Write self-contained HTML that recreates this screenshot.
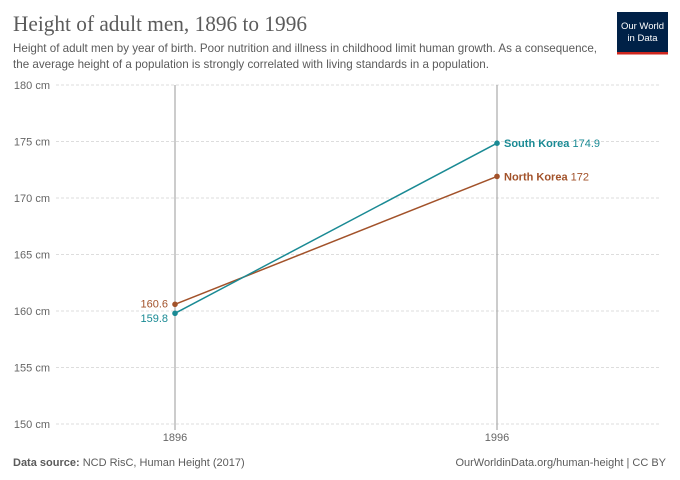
<!DOCTYPE html>
<html><head><meta charset="utf-8"><style>
body{margin:0;background:#fff;width:680px;height:480px;overflow:hidden}
svg{display:block;font-family:"Liberation Sans",sans-serif}
</style></head><body>
<svg width="680" height="480" viewBox="0 0 680 480">
<text x="13" y="31" font-family="Liberation Serif,serif" font-size="22" fill="#5b5b5b" textLength="294" lengthAdjust="spacingAndGlyphs">Height of adult men, 1896 to 1996</text>
<rect x="617" y="12" width="51" height="40" fill="#002147"/>
<rect x="617" y="52" width="51" height="2.5" fill="#ce261e"/>
<text x="642.5" y="29" font-size="9.5" fill="#fff" text-anchor="middle">Our World</text>
<text x="642.5" y="41" font-size="9.5" fill="#fff" text-anchor="middle">in Data</text>
<text x="13" y="52" font-size="12" fill="#5b5b5b" textLength="584" lengthAdjust="spacingAndGlyphs">Height of adult men by year of birth. Poor nutrition and illness in childhood limit human growth. As a consequence,</text>
<text x="13" y="68" font-size="12" fill="#5b5b5b" textLength="476" lengthAdjust="spacingAndGlyphs">the average height of a population is strongly correlated with living standards in a population.</text>
<g stroke="#ddd" stroke-dasharray="3,2" stroke-width="1">
<line x1="56" x2="660" y1="85" y2="85"/><line x1="56" x2="660" y1="141.5" y2="141.5"/><line x1="56" x2="660" y1="198" y2="198"/><line x1="56" x2="660" y1="254.5" y2="254.5"/><line x1="56" x2="660" y1="311" y2="311"/><line x1="56" x2="660" y1="367.5" y2="367.5"/><line x1="56" x2="660" y1="424" y2="424"/>
</g>
<g font-size="11" fill="#666" text-anchor="end">
<text x="50" y="89">180 cm</text><text x="50" y="145.5">175 cm</text><text x="50" y="202">170 cm</text><text x="50" y="258.5">165 cm</text><text x="50" y="315">160 cm</text><text x="50" y="371.5">155 cm</text><text x="50" y="428">150 cm</text>
</g>
<line x1="175" x2="175" y1="85" y2="430" stroke="#999"/>
<line x1="497" x2="497" y1="85" y2="430" stroke="#999"/>
<text x="175" y="441" font-size="11" fill="#666" text-anchor="middle">1896</text>
<text x="497" y="441" font-size="11" fill="#666" text-anchor="middle">1996</text>
<line x1="175" y1="304.3" x2="497" y2="176.4" stroke="#a2522a" stroke-width="1.5"/>
<line x1="175" y1="313.3" x2="497" y2="143.2" stroke="#1a8a94" stroke-width="1.5"/>
<circle cx="175" cy="304.3" r="2.8" fill="#a2522a"/><circle cx="497" cy="176.4" r="2.8" fill="#a2522a"/>
<circle cx="175" cy="313.3" r="2.8" fill="#1a8a94"/><circle cx="497" cy="143.2" r="2.8" fill="#1a8a94"/>
<text x="168" y="307.5" font-size="11" fill="#a2522a" text-anchor="end">160.6</text>
<text x="168" y="322" font-size="11" fill="#1a8a94" text-anchor="end">159.8</text>
<text x="504" y="147" font-size="11" fill="#1a8a94"><tspan font-weight="bold">South Korea</tspan> 174.9</text>
<text x="504" y="180.5" font-size="11" fill="#a2522a"><tspan font-weight="bold">North Korea</tspan> 172</text>
<text x="13" y="466" font-size="11" fill="#5b5b5b"><tspan font-weight="bold">Data source:</tspan> NCD RisC, Human Height (2017)</text>
<text x="666" y="466" font-size="11" fill="#5b5b5b" text-anchor="end">OurWorldinData.org/human-height | CC BY</text>
</svg>
</body></html>
